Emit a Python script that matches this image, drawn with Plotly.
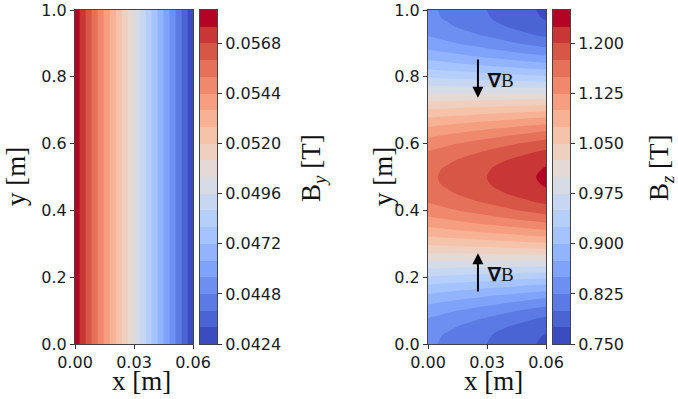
import plotly.graph_objects as go

# ---------------- data ----------------
x_by = [0.0, 0.01, 0.02, 0.03, 0.04, 0.05, 0.06]
y_by = [0.0, 1.0]
by_profile = [0.0582, 0.0556, 0.0530, 0.0504, 0.0477, 0.0451, 0.0425]
by_level_start, by_level_step, by_level_count = 0.0424, 0.0008, 20
by_ticks = [0.0424, 0.0448, 0.0472, 0.0496, 0.0520, 0.0544, 0.0568]
by_ticklabels = ["0.0424", "0.0448", "0.0472", "0.0496", "0.0520", "0.0544", "0.0568"]

x_bz = [0.0, 0.01, 0.02, 0.03, 0.04, 0.05, 0.06]
y_bz = [0.0, 0.025, 0.05, 0.075, 0.1, 0.125, 0.15, 0.175, 0.2, 0.225,
        0.25, 0.275, 0.3, 0.325, 0.35, 0.375, 0.4, 0.425, 0.45, 0.475,
        0.5, 0.525, 0.55, 0.575, 0.6, 0.625, 0.65, 0.675, 0.7, 0.725,
        0.75, 0.775, 0.8, 0.825, 0.85, 0.875, 0.9, 0.925, 0.95, 0.975, 1.0]
bz_values = [
    [0.830, 0.820, 0.810, 0.800, 0.790, 0.780, 0.770],
    [0.832, 0.822, 0.812, 0.802, 0.793, 0.783, 0.773],
    [0.838, 0.829, 0.819, 0.810, 0.800, 0.791, 0.781],
    [0.849, 0.840, 0.831, 0.822, 0.813, 0.804, 0.795],
    [0.862, 0.854, 0.846, 0.838, 0.830, 0.822, 0.814],
    [0.880, 0.873, 0.866, 0.859, 0.852, 0.844, 0.837],
    [0.900, 0.894, 0.888, 0.882, 0.877, 0.871, 0.865],
    [0.923, 0.918, 0.914, 0.909, 0.905, 0.900, 0.896],
    [0.947, 0.944, 0.941, 0.938, 0.935, 0.932, 0.929],
    [0.973, 0.972, 0.970, 0.969, 0.967, 0.966, 0.964],
    [1.000, 1.000, 1.000, 1.000, 1.000, 1.000, 1.000],
    [1.027, 1.028, 1.030, 1.031, 1.033, 1.034, 1.036],
    [1.053, 1.056, 1.059, 1.062, 1.065, 1.068, 1.071],
    [1.077, 1.082, 1.086, 1.091, 1.095, 1.100, 1.104],
    [1.100, 1.106, 1.112, 1.118, 1.123, 1.129, 1.135],
    [1.120, 1.127, 1.134, 1.141, 1.148, 1.156, 1.163],
    [1.138, 1.146, 1.154, 1.162, 1.170, 1.178, 1.186],
    [1.151, 1.160, 1.169, 1.178, 1.187, 1.196, 1.205],
    [1.162, 1.171, 1.181, 1.190, 1.200, 1.209, 1.219],
    [1.168, 1.178, 1.188, 1.198, 1.207, 1.217, 1.227],
    [1.170, 1.180, 1.190, 1.200, 1.210, 1.220, 1.230],
    [1.168, 1.178, 1.188, 1.198, 1.207, 1.217, 1.227],
    [1.162, 1.171, 1.181, 1.190, 1.200, 1.209, 1.219],
    [1.151, 1.160, 1.169, 1.178, 1.187, 1.196, 1.205],
    [1.138, 1.146, 1.154, 1.162, 1.170, 1.178, 1.186],
    [1.120, 1.127, 1.134, 1.141, 1.148, 1.156, 1.163],
    [1.100, 1.106, 1.112, 1.118, 1.123, 1.129, 1.135],
    [1.077, 1.082, 1.086, 1.091, 1.095, 1.100, 1.104],
    [1.053, 1.056, 1.059, 1.062, 1.065, 1.068, 1.071],
    [1.027, 1.028, 1.030, 1.031, 1.033, 1.034, 1.036],
    [1.000, 1.000, 1.000, 1.000, 1.000, 1.000, 1.000],
    [0.973, 0.972, 0.970, 0.969, 0.967, 0.966, 0.964],
    [0.947, 0.944, 0.941, 0.938, 0.935, 0.932, 0.929],
    [0.923, 0.918, 0.914, 0.909, 0.905, 0.900, 0.896],
    [0.900, 0.894, 0.888, 0.882, 0.877, 0.871, 0.865],
    [0.880, 0.873, 0.866, 0.859, 0.852, 0.844, 0.837],
    [0.862, 0.854, 0.846, 0.838, 0.830, 0.822, 0.814],
    [0.849, 0.840, 0.831, 0.822, 0.813, 0.804, 0.795],
    [0.838, 0.829, 0.819, 0.810, 0.800, 0.791, 0.781],
    [0.832, 0.822, 0.812, 0.802, 0.793, 0.783, 0.773],
    [0.830, 0.820, 0.810, 0.800, 0.790, 0.780, 0.770],
]
bz_level_start, bz_level_step, bz_level_count = 0.750, 0.025, 20
bz_ticks = [0.750, 0.825, 0.900, 0.975, 1.050, 1.125, 1.200]
bz_ticklabels = ["0.750", "0.825", "0.900", "0.975", "1.050", "1.125", "1.200"]

x_ticks = [0.0, 0.03, 0.06]
x_ticklabels = ["0.00", "0.03", "0.06"]
y_ticks = [0.0, 0.2, 0.4, 0.6, 0.8, 1.0]
y_ticklabels = ["0.0", "0.2", "0.4", "0.6", "0.8", "1.0"]

# ---------------- style ----------------
coolwarm_stops = [
    (0.0, (0.2298057, 0.298717966, 0.753683153)),
    (0.03125, (0.26623388, 0.353094838, 0.801466763)),
    (0.0625, (0.30386891, 0.406535296, 0.84495867)),
    (0.09375, (0.342804478, 0.458757618, 0.883725899)),
    (0.125, (0.38301334, 0.50941904, 0.917387822)),
    (0.15625, (0.424369608, 0.558148092, 0.945619588)),
    (0.1875, (0.46666708, 0.604562568, 0.968154911)),
    (0.21875, (0.509635204, 0.648280772, 0.98478814)),
    (0.25, (0.552953156, 0.688929332, 0.995375608)),
    (0.28125, (0.596262162, 0.726149107, 0.999836203)),
    (0.3125, (0.639176211, 0.759599947, 0.998151185)),
    (0.34375, (0.681291281, 0.788964712, 0.990363227)),
    (0.375, (0.722193294, 0.813952739, 0.976574709)),
    (0.40625, (0.761464949, 0.834302879, 0.956945269)),
    (0.4375, (0.798691636, 0.849786142, 0.931688648)),
    (0.46875, (0.833466556, 0.860207984, 0.901068838)),
    (0.5, (0.865395197, 0.86541021, 0.865395561)),
    (0.53125, (0.897787179, 0.848937047, 0.820880546)),
    (0.5625, (0.924127593, 0.827384882, 0.774508472)),
    (0.59375, (0.944468518, 0.800927443, 0.726736146)),
    (0.625, (0.958852946, 0.769767752, 0.678007945)),
    (0.65625, (0.96732803, 0.734132809, 0.628751763)),
    (0.6875, (0.969954137, 0.694266682, 0.579375448)),
    (0.71875, (0.966811177, 0.650421156, 0.530263762)),
    (0.75, (0.958003065, 0.602842431, 0.481775914)),
    (0.78125, (0.943660866, 0.551750968, 0.434243684)),
    (0.8125, (0.923944917, 0.49730856, 0.387970225)),
    (0.84375, (0.89904617, 0.439559467, 0.343229596)),
    (0.875, (0.869186849, 0.378313092, 0.300267182)),
    (0.90625, (0.834620542, 0.312874446, 0.259301199)),
    (0.9375, (0.795631745, 0.24128379, 0.220525627)),
    (0.96875, (0.752534934, 0.157246067, 0.184115123)),
    (1.0, (0.705673158, 0.01555616, 0.150232812)),
]
coolwarm = [[p, "rgb(%d,%d,%d)" % (round(r * 255), round(g * 255), round(b * 255))]
            for p, (r, g, b) in coolwarm_stops]

W, H = 678, 399
tick_font = dict(family="DejaVu Sans", size=16, color="#1a1a1a")
serif = "Liberation Serif"
frame = "#444444"


def px_x(p):
    return p / W


def px_y(p):
    return 1 - p / H


def levels(start, step, count):
    return [start + step * k for k in range(count + 1)]


by_levels = levels(by_level_start, by_level_step, by_level_count)
bz_levels = levels(bz_level_start, bz_level_step, bz_level_count)

by_z = [list(by_profile) for _ in y_by]

fig = go.Figure()


def add_field(x, y, z, lv, xa, ya):
    fig.add_trace(go.Contour(
        x=x, y=y, z=z,
        autocontour=False,
        contours=dict(start=lv[1], end=lv[-2], size=lv[1] - lv[0],
                      coloring="fill", showlines=False),
        line=dict(width=0, smoothing=1.0),
        colorscale=coolwarm, showscale=False,
        xaxis=xa, yaxis=ya, hoverinfo="skip",
    ))


def add_colorbar(lv, xa, ya):
    n = len(lv) - 1
    fig.add_trace(go.Heatmap(
        x=[0, 1], y=lv, z=[[k] for k in range(n)],
        zmin=0, zmax=n - 1, colorscale=coolwarm, showscale=False,
        xaxis=xa, yaxis=ya, hoverinfo="skip",
    ))


add_field(x_by, y_by, by_z, by_levels, "x", "y")
add_field(x_bz, y_bz, bz_values, bz_levels, "x2", "y2")
add_colorbar(by_levels, "x3", "y3")
add_colorbar(bz_levels, "x4", "y4")

axis_common = dict(showline=True, mirror=True, linecolor=frame, linewidth=1,
                   ticks="outside", ticklen=4, tickcolor="#333", tickfont=tick_font,
                   showgrid=False, zeroline=False, automargin=False, fixedrange=True)
plot_dom_y = [px_y(344), px_y(10)]

cb_x_common = dict(range=[0, 1], showticklabels=False, ticks="", showline=True,
                   mirror=True, linecolor=frame, linewidth=1, showgrid=False,
                   zeroline=False, automargin=False, fixedrange=True)
cb_y_common = dict(side="right", showline=True, mirror=True, linecolor=frame,
                   linewidth=1, ticks="outside", ticklen=4, tickcolor="#333",
                   tickfont=tick_font, showgrid=False, zeroline=False,
                   domain=plot_dom_y, automargin=False, fixedrange=True)

fig.update_layout(
    width=W, height=H,
    margin=dict(l=0, r=0, t=0, b=0, pad=0, autoexpand=False),
    paper_bgcolor="white", plot_bgcolor="white",
    showlegend=False,
    xaxis=dict(domain=[px_x(75), px_x(193)], range=[0, 0.06],
               tickvals=x_ticks, ticktext=x_ticklabels, anchor="y", **axis_common),
    yaxis=dict(domain=plot_dom_y, range=[0, 1],
               tickvals=y_ticks, ticktext=y_ticklabels, anchor="x", **axis_common),
    xaxis2=dict(domain=[px_x(428), px_x(546)], range=[0, 0.06],
                tickvals=x_ticks, ticktext=x_ticklabels, anchor="y2", **axis_common),
    yaxis2=dict(domain=plot_dom_y, range=[0, 1],
                tickvals=y_ticks, ticktext=y_ticklabels, anchor="x2", **axis_common),
    xaxis3=dict(domain=[px_x(200), px_x(217)], anchor="y3", **cb_x_common),
    yaxis3=dict(range=[by_levels[0], by_levels[-1]], anchor="x3",
                tickvals=by_ticks, ticktext=by_ticklabels, **cb_y_common),
    xaxis4=dict(domain=[px_x(553), px_x(570)], anchor="y4", **cb_x_common),
    yaxis4=dict(range=[bz_levels[0], bz_levels[-1]], anchor="x4",
                tickvals=bz_ticks, ticktext=bz_ticklabels, **cb_y_common),
)

label_font = dict(family=serif, size=27, color="#111")
annotations = [
    dict(text="y [m]", x=px_x(16), y=px_y(177), textangle=-90),
    dict(text="x [m]", x=px_x(141), y=px_y(381)),
    dict(text="B<sub><i>y</i></sub> [T]", x=px_x(313), y=px_y(168), textangle=-90),
    dict(text="y [m]", x=px_x(383), y=px_y(177), textangle=-90),
    dict(text="x [m]", x=px_x(494), y=px_y(381)),
    dict(text="B<sub><i>z</i></sub> [T]", x=px_x(661), y=px_y(168), textangle=-90),
]
for a in annotations:
    fig.add_annotation(xref="paper", yref="paper", showarrow=False,
                       xanchor="center", yanchor="middle", font=label_font, **a)

# gradient arrows
arrow_x = 0.0254
for head_y, tail_y, label_y in [(0.737, 0.856, 0.79), (0.272, 0.153, 0.207)]:
    fig.add_annotation(xref="x2", yref="y2", axref="x2", ayref="y2",
                       x=arrow_x, y=head_y, ax=arrow_x, ay=tail_y, text="",
                       showarrow=True, arrowhead=2, arrowsize=1.1, arrowwidth=2,
                       arrowcolor="black")
    fig.add_annotation(xref="x2", yref="y2", x=0.0368, y=label_y,
                       text="<b>∇</b>B", showarrow=False,
                       font=dict(family=serif, size=19, color="#111"))

# place the figure flush with the page corner (no default body margin)
fig.write_html(
    "out.html",
    config={"displayModeBar": False, "staticPlot": True},
    post_script="document.body.style.margin='0';document.body.style.padding='0';",
)
